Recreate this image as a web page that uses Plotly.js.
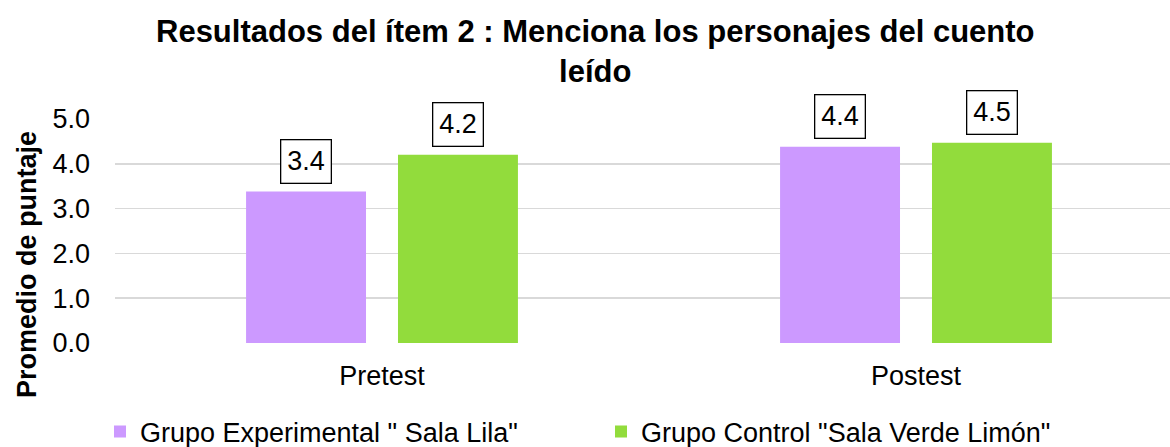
<!DOCTYPE html>
<html>
<head>
<meta charset="utf-8">
<script src="https://cdn.plot.ly/plotly-3.0.1.min.js"></script>
<style>html,body{margin:0;padding:0;background:#fff;}#chart{width:1170px;height:447px;}</style>
</head>
<body>
<div id="chart"></div>
<script>
const categories = ["Pretest", "Postest"];
const seriesNames = ['Grupo Experimental " Sala Lila"', 'Grupo Control "Sala Verde Limón"'];
const experimental = [3.38, 4.38];
const control = [4.2, 4.47];
const yTicks = [0, 1, 2, 3, 4, 5];
const yTickLabels = ["0.0", "1.0", "2.0", "3.0", "4.0", "5.0"];
const chartTitle = "Resultados del ítem 2 : Menciona los personajes del cuento<br>leído";
const yTitle = "Promedio de puntaje";

const FONT = "Liberation Sans, Arial, sans-serif";
const colors = ["#CC99FF", "#92DC3C"];
const seriesVals = [experimental, control];

const traces = seriesVals.map((vals, i) => ({
  type: "bar",
  name: seriesNames[i],
  x: categories,
  y: vals,
  marker: {color: colors[i]},
  hoverinfo: "x+y+name"
}));

const BARGAP = 0.431;
const groupWidth = 1 - BARGAP;
const slot = groupWidth / 2;
const annotations = [];
seriesVals.forEach((vals, i) => {
  vals.forEach((v, j) => {
    annotations.push({
      x: j - groupWidth / 2 + slot * (i + 0.5),
      y: v,
      xref: "x", yref: "y",
      text: v.toFixed(1),
      showarrow: false,
      yanchor: "bottom",
      yshift: 8,
      font: {family: FONT, size: 27, color: "#000"},
      bgcolor: "#fff",
      bordercolor: "#000",
      borderwidth: 1.3,
      borderpad: 6
    });
  });
});
annotations.push({
  text: "<b>" + yTitle + "</b>",
  textangle: -90,
  xref: "paper", yref: "paper",
  x: (27 - 115) / 1055, y: (343 - 265) / 224,
  xanchor: "center", yanchor: "middle",
  showarrow: false,
  font: {family: FONT, size: 27, color: "#000"}
});
annotations.push({
  text: "<b>" + chartTitle + "</b>",
  xref: "paper", yref: "paper",
  x: (595 - 115) / 1055, y: (343 - 12) / 224,
  xanchor: "center", yanchor: "top",
  showarrow: false,
  font: {family: FONT, size: 31, color: "#000"}
});

const layout = {
  width: 1170, height: 447,
  margin: {l: 115, r: 0, t: 119, b: 104},
  paper_bgcolor: "#fff", plot_bgcolor: "#fff",
  font: {family: FONT, color: "#000"},
  barmode: "group",
  bargap: BARGAP,
  bargroupgap: 32 / 152,
  xaxis: {
    type: "category",
    range: [-0.5, -0.5 + 1055 / 534],
    showgrid: false, zeroline: false, showline: false,
    ticks: "",
    tickfont: {family: FONT, size: 27, color: "#000"},
    ticklabelstandoff: 14
  },
  yaxis: {
    range: [0, 5],
    tickvals: yTicks,
    ticktext: yTickLabels,
    showgrid: true, gridcolor: "#D9D9D9", gridwidth: 1.5,
    zeroline: false, showline: false,
    ticks: "",
    tickfont: {family: FONT, size: 27, color: "#000"},
    ticklabelstandoff: 24
  },
  showlegend: true,
  legend: {
    orientation: "h",
    xref: "container", yref: "container",
    x: 100 / 1170, xanchor: "left",
    y: 1 - 432 / 447, yanchor: "middle",
    font: {family: FONT, size: 27, color: "#000"},
    itemwidth: 30,
    entrywidth: 456,
    entrywidthmode: "pixels",
    tracegroupgap: 0
  },
  annotations: annotations
};

Plotly.newPlot("chart", traces, layout, {displayModeBar: false, staticPlot: true});
</script>
</body>
</html>
